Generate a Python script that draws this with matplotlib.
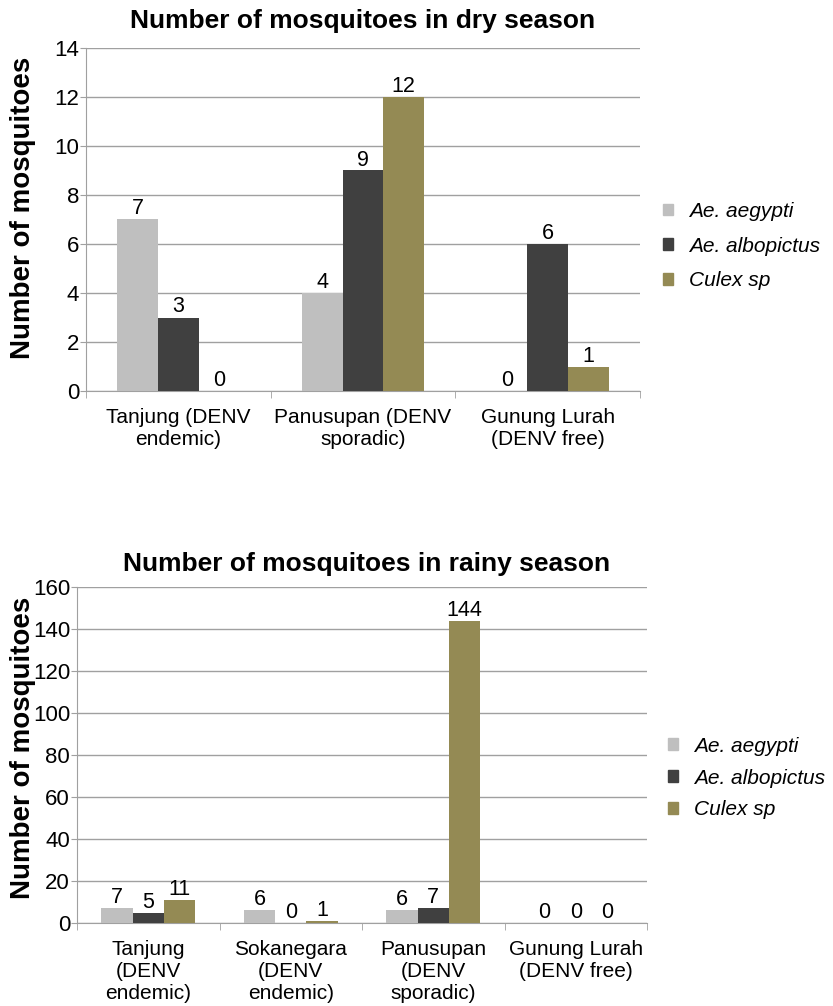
# bar charts of mosquito counts, dry and rainy season
import numpy as np
import matplotlib.pyplot as plt
from matplotlib.patches import Patch

plt.rcParams['font.family'] = ['Liberation Sans', 'DejaVu Sans']

species = ['Ae. aegypti', 'Ae. albopictus', 'Culex sp']
colors = ['#bfbfbf', '#404040', '#948a54']

dry_sites = ['Tanjung (DENV\nendemic)', 'Panusupan (DENV\nsporadic)',
             'Gunung Lurah\n(DENV free)']
dry_aegypti = [7, 4, 0]
dry_albopictus = [3, 9, 6]
dry_culex = [0, 12, 1]

rainy_sites = ['Tanjung\n(DENV\nendemic)', 'Sokanegara\n(DENV\nendemic)',
               'Panusupan\n(DENV\nsporadic)', 'Gunung Lurah\n(DENV free)']
rainy_aegypti = [7, 6, 6, 0]
rainy_albopictus = [5, 0, 7, 0]
rainy_culex = [11, 1, 144, 0]

fig = plt.figure(figsize=(8.33, 10.06), dpi=100)
W, H = 833, 1006

def panel(rect_px, sites, series, ymax, ystep, title, title_xy, ylab_y, legend_xy, spacing):
    l, t, r, b = rect_px
    ax = fig.add_axes([l / W, 1 - b / H, (r - l) / W, (b - t) / H])
    x = np.arange(len(sites))
    width = 0.22
    for i, (vals, col) in enumerate(zip(series, colors)):
        bars = ax.bar(x + (i - 1) * width, vals, width, color=col, zorder=3)
        ax.bar_label(bars, labels=[str(v) for v in vals], padding=0, fontsize=15.5)
    ax.set_xlim(-0.5, len(sites) - 0.5)
    ax.set_ylim(0, ymax)
    ax.set_yticks(np.arange(0, ymax + 1, ystep))
    ax.set_xticks(x)
    ax.set_xticklabels(sites, fontsize=15, linespacing=1.2)
    ax.set_xticks(np.arange(-0.5, len(sites), 1), minor=True)
    ax.tick_params(axis='x', which='major', length=0, pad=12)
    ax.tick_params(axis='x', which='minor', length=5, color='#a0a0a0')
    ax.tick_params(axis='y', length=4, color='#a0a0a0', labelsize=16, pad=1)
    ax.yaxis.grid(True, color='#a0a0a0', linewidth=1, zorder=0)
    ax.set_axisbelow(True)
    for s in ['top', 'right']:
        ax.spines[s].set_visible(False)
    for s in ['left', 'bottom']:
        ax.spines[s].set_color('#a0a0a0')
    ax.set_ylabel('Number of mosquitoes', fontsize=20, fontweight='bold')
    ax.yaxis.set_label_coords((36 - l) / (r - l), (b - ylab_y) / (b - t))
    fig.text(title_xy[0] / W, 1 - title_xy[1] / H, title, fontsize=19,
             fontweight='bold', ha='center', va='center')
    handles = [Patch(color=c, label=s) for c, s in zip(colors, species)]
    fig.legend(handles=handles, loc='center left',
               bbox_to_anchor=(legend_xy[0] / W, 1 - legend_xy[1] / H),
               frameon=False, prop={'size': 15, 'style': 'italic'},
               handlelength=0.5, handleheight=0.5, handletextpad=0.75,
               labelspacing=spacing, borderpad=0, borderaxespad=0)
    return ax

panel((86, 48, 640, 391), dry_sites, [dry_aegypti, dry_albopictus, dry_culex],
      14, 2, 'Number of mosquitoes in dry season', (363, 21), 208,
      (663, 246), 0.75)
panel((77, 587, 647, 923), rainy_sites, [rainy_aegypti, rainy_albopictus, rainy_culex],
      160, 20, 'Number of mosquitoes in rainy season', (367, 564), 748,
      (668, 778), 0.62)

fig.savefig('out.png', dpi=100)
